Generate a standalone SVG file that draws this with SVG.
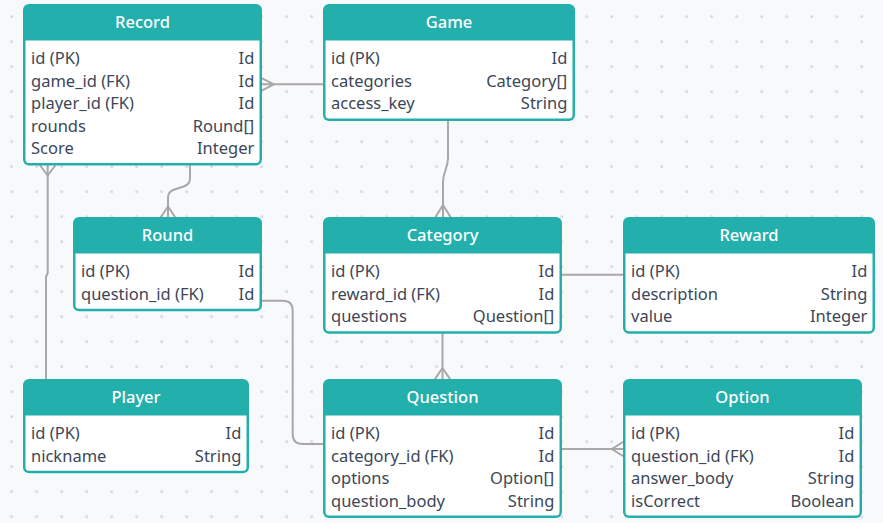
<svg xmlns="http://www.w3.org/2000/svg" width="883" height="523" viewBox="0 0 883 523">
<style>
.hd{fill:#23afac}
.bd{fill:#ffffff}
.tt{font-family:"Noto Sans","Open Sans",sans-serif;font-size:16.5px;fill:#ffffff;text-anchor:middle;font-weight:500}
.f{font-family:"Noto Sans","Open Sans",sans-serif;font-size:16.5px;fill:#3b4758}
.r{text-anchor:end}
.c{fill:none;stroke:#a8a8a8;stroke-width:2;stroke-linejoin:round;stroke-linecap:round}
</style>
<defs>
<pattern id="dots" patternUnits="userSpaceOnUse" width="25" height="25">
<circle cx="11.7" cy="16.7" r="1.6" fill="#dddee4"/>
</pattern>
</defs>
<rect x="0" y="0" width="883" height="523" fill="#f8f9fb"/>
<rect x="0" y="0" width="883" height="523" fill="url(#dots)"/>

<g id="connectors">
<path class="c" d="M262 84.3 H323"/>
<path class="c" d="M262 78.3 L274 84.3 L262 90.3"/>
<path class="c" d="M190 165.5 V178 C190 192 168 184 168 198 V217"/>
<path class="c" d="M161 217 L168 206.5 L175 217"/>
<path class="c" d="M448 121 V158 C448 168 443 172 443 182 V217"/>
<path class="c" d="M435.5 217 L443 205 L450.5 217"/>
<path class="c" d="M562 274.7 H623"/>
<path class="c" d="M442.5 333.5 V379"/>
<path class="c" d="M435 379 L442.5 368 L450 379"/>
<path class="c" d="M262 300.7 H283 Q292.7 300.7 292.7 310.7 V434 Q292.7 444 302.7 444 H323"/>
<path class="c" d="M562 449 H623"/>
<path class="c" d="M623 442 L611.7 449 L623 456"/>
<path class="c" d="M47.7 165.5 V273 L46 277 V379"/>
<path class="c" d="M40.2 165.5 L47.7 175.5 L55.2 165.5"/>
</g>

<g id="Record">
<rect class="hd" x="23" y="4" width="239" height="161.5" rx="6"/>
<path class="bd" d="M25.5 40.5 H259.5 V159.5 Q259.5 163 256 163 H29 Q25.5 163 25.5 159.5 Z"/>
<text class="tt" x="142.5" y="28">Record</text>
<text class="f" x="31" y="64.3">id (PK)</text><text class="f r" x="254.3" y="64.3">Id</text>
<text class="f" x="31" y="86.7">game_id (FK)</text><text class="f r" x="254.3" y="86.7">Id</text>
<text class="f" x="31" y="109.1">player_id (FK)</text><text class="f r" x="254.3" y="109.1">Id</text>
<text class="f" x="31" y="131.5">rounds</text><text class="f r" x="254.3" y="131.5">Round[]</text>
<text class="f" x="31" y="153.9">Score</text><text class="f r" x="254.3" y="153.9">Integer</text>
</g>

<g id="Game">
<rect class="hd" x="323" y="4" width="252" height="117" rx="6"/>
<path class="bd" d="M325.5 40.5 H572.5 V115 Q572.5 118.5 569 118.5 H329 Q325.5 118.5 325.5 115 Z"/>
<text class="tt" x="449" y="28">Game</text>
<text class="f" x="331" y="64.3">id (PK)</text><text class="f r" x="567.3" y="64.3">Id</text>
<text class="f" x="331" y="86.7">categories</text><text class="f r" x="567.3" y="86.7">Category[]</text>
<text class="f" x="331" y="109.1">access_key</text><text class="f r" x="567.3" y="109.1">String</text>
</g>

<g id="Round">
<rect class="hd" x="73" y="217" width="189" height="94.3" rx="6"/>
<path class="bd" d="M75.5 253.5 H259.5 V305.3 Q259.5 308.8 256 308.8 H79 Q75.5 308.8 75.5 305.3 Z"/>
<text class="tt" x="167.5" y="241">Round</text>
<text class="f" x="81" y="277.3">id (PK)</text><text class="f r" x="254.3" y="277.3">Id</text>
<text class="f" x="81" y="299.7">question_id (FK)</text><text class="f r" x="254.3" y="299.7">Id</text>
</g>

<g id="Category">
<rect class="hd" x="323" y="217" width="239" height="116.7" rx="6"/>
<path class="bd" d="M325.5 253.5 H559.5 V327.7 Q559.5 331.2 556 331.2 H329 Q325.5 331.2 325.5 327.7 Z"/>
<text class="tt" x="442.5" y="241">Category</text>
<text class="f" x="331" y="277.3">id (PK)</text><text class="f r" x="554.3" y="277.3">Id</text>
<text class="f" x="331" y="299.7">reward_id (FK)</text><text class="f r" x="554.3" y="299.7">Id</text>
<text class="f" x="331" y="322.1">questions</text><text class="f r" x="554.3" y="322.1">Question[]</text>
</g>

<g id="Reward">
<rect class="hd" x="623" y="217" width="252" height="116.7" rx="6"/>
<path class="bd" d="M625.5 253.5 H872.5 V327.7 Q872.5 331.2 869 331.2 H629 Q625.5 331.2 625.5 327.7 Z"/>
<text class="tt" x="749" y="241">Reward</text>
<text class="f" x="631" y="277.3">id (PK)</text><text class="f r" x="867.3" y="277.3">Id</text>
<text class="f" x="631" y="299.7">description</text><text class="f r" x="867.3" y="299.7">String</text>
<text class="f" x="631" y="322.1">value</text><text class="f r" x="867.3" y="322.1">Integer</text>
</g>

<g id="Player">
<rect class="hd" x="23" y="379" width="226" height="94.3" rx="6"/>
<path class="bd" d="M25.5 415.5 H246.5 V467.3 Q246.5 470.8 243 470.8 H29 Q25.5 470.8 25.5 467.3 Z"/>
<text class="tt" x="136" y="403">Player</text>
<text class="f" x="31" y="439.3">id (PK)</text><text class="f r" x="241.3" y="439.3">Id</text>
<text class="f" x="31" y="461.7">nickname</text><text class="f r" x="241.3" y="461.7">String</text>
</g>

<g id="Question">
<rect class="hd" x="323" y="379" width="239" height="139" rx="6"/>
<path class="bd" d="M325.5 415.5 H559.5 V512 Q559.5 515.5 556 515.5 H329 Q325.5 515.5 325.5 512 Z"/>
<text class="tt" x="442.5" y="403">Question</text>
<text class="f" x="331" y="439.3">id (PK)</text><text class="f r" x="554.3" y="439.3">Id</text>
<text class="f" x="331" y="461.7">category_id (FK)</text><text class="f r" x="554.3" y="461.7">Id</text>
<text class="f" x="331" y="484.1">options</text><text class="f r" x="554.3" y="484.1">Option[]</text>
<text class="f" x="331" y="506.5">question_body</text><text class="f r" x="554.3" y="506.5">String</text>
</g>

<g id="Option">
<rect class="hd" x="623" y="379" width="239" height="139" rx="6"/>
<path class="bd" d="M625.5 415.5 H859.5 V512 Q859.5 515.5 856 515.5 H629 Q625.5 515.5 625.5 512 Z"/>
<text class="tt" x="742.5" y="403">Option</text>
<text class="f" x="631" y="439.3">id (PK)</text><text class="f r" x="854.3" y="439.3">Id</text>
<text class="f" x="631" y="461.7">question_id (FK)</text><text class="f r" x="854.3" y="461.7">Id</text>
<text class="f" x="631" y="484.1">answer_body</text><text class="f r" x="854.3" y="484.1">String</text>
<text class="f" x="631" y="506.5">isCorrect</text><text class="f r" x="854.3" y="506.5">Boolean</text>
</g>
</svg>
